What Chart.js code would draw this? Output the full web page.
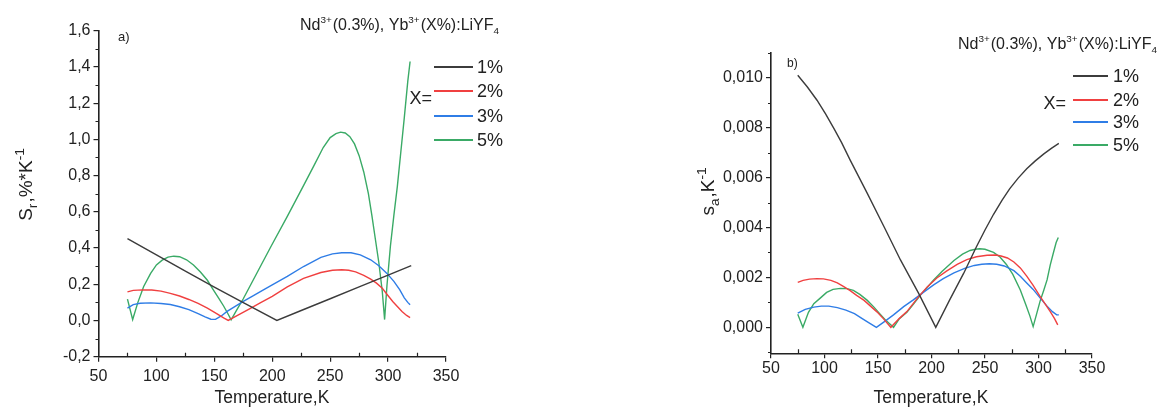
<!DOCTYPE html>
<html>
<head>
<meta charset="utf-8">
<script src="https://cdn.jsdelivr.net/npm/chart.js@4.4.0/dist/chart.umd.min.js"></script>
<style>
  html, body { margin: 0; padding: 0; background: #fff; }
  #wrap { position: relative; width: 1157px; height: 408px; }
  canvas { position: absolute; left: 0; top: 0; }
</style>
</head>
<body>
<div id="wrap">
  <canvas id="chartA" width="1157" height="408"></canvas>
  <canvas id="chartB" width="1157" height="408"></canvas>
</div>
<script>
const FONT = '"Liberation Sans", Arial, sans-serif';
const AXIS = '#222';

const seriesLabels = ['1%', '2%', '3%', '5%'];
const seriesColors = ['#3c3c3c', '#f04040', '#2f7de6', '#3aaa66'];
const xTicks = [50, 100, 150, 200, 250, 300, 350];

// panel a) relative sensitivity S_r, %*K^-1
const tA1 = [75, 100, 125, 150, 175, 204, 225, 250, 275, 300, 320];
const srA1 = [0.452, 0.362, 0.272, 0.184, 0.098, 0.0, 0.055, 0.12, 0.185, 0.25, 0.303];
const tA2 = [75, 80, 88, 96, 104, 112, 120, 128, 136, 144, 152, 158, 162, 170, 180, 190, 200, 213, 227, 242, 252, 260, 266, 272, 279, 285, 290, 295, 299, 304, 308, 312, 316, 319];
const srA2 = [0.158, 0.166, 0.169, 0.168, 0.162, 0.150, 0.135, 0.116, 0.094, 0.068, 0.038, 0.014, 0.0, 0.028, 0.063, 0.098, 0.133, 0.185, 0.232, 0.265, 0.277, 0.280, 0.277, 0.268, 0.249, 0.228, 0.206, 0.178, 0.145, 0.105, 0.077, 0.050, 0.028, 0.016];
const tA3 = [75, 80, 86, 95, 104, 112, 120, 128, 136, 142, 147, 151, 156, 161, 168, 175, 183, 192, 200, 213, 227, 242, 252, 260, 268, 276, 285, 292, 299, 305, 310, 314, 317, 319];
const srA3 = [0.068, 0.088, 0.095, 0.097, 0.094, 0.088, 0.076, 0.060, 0.038, 0.020, 0.007, 0.006, 0.025, 0.050, 0.078, 0.105, 0.135, 0.168, 0.196, 0.243, 0.298, 0.348, 0.368, 0.374, 0.374, 0.362, 0.335, 0.302, 0.26, 0.216, 0.17, 0.125, 0.1, 0.087];
const tA5 = [75, 79.5, 84, 89, 95, 100, 105, 110, 115, 120, 126, 132, 138, 144, 149, 154, 158, 161.5, 164.5, 170, 175, 187, 199, 213, 227, 236, 244, 250, 255, 259, 263, 267, 271, 275, 279, 283, 286, 289, 292, 295, 297, 299, 302, 305, 308, 311, 314, 317, 319];
const srA5 = [0.118, 0.005, 0.1, 0.188, 0.26, 0.307, 0.333, 0.350, 0.355, 0.352, 0.335, 0.306, 0.268, 0.222, 0.17, 0.12, 0.08, 0.04, 0.004, 0.065, 0.12, 0.265, 0.41, 0.575, 0.745, 0.855, 0.955, 1.01, 1.032, 1.04, 1.035, 1.015, 0.975, 0.91, 0.82, 0.70, 0.58, 0.45, 0.32, 0.16, 0.005, 0.19, 0.41, 0.58, 0.74, 0.93, 1.12, 1.32, 1.43];

// panel b) absolute sensitivity S_a, K^-1
const tB1 = [75, 84, 93, 101, 109, 116, 124, 140, 156, 171, 188, 204, 217, 230, 242, 250, 258, 266, 273, 281, 289, 297, 305, 312, 319];
const saB1 = [0.0101, 0.00963, 0.0091, 0.00855, 0.00795, 0.0074, 0.0067, 0.00537, 0.0040, 0.0027, 0.00136, 0.0, 0.0011, 0.00216, 0.00323, 0.0039, 0.00453, 0.0051, 0.00555, 0.00598, 0.00635, 0.00667, 0.00695, 0.00717, 0.00737];
const tB2 = [75, 80, 86, 93, 99, 106, 112, 118, 124, 130, 137, 143, 149, 155, 162, 170, 177, 188, 196, 205, 214, 224, 233, 242, 252, 260, 265, 271, 277, 283, 289, 295, 301, 306, 311, 315, 318];
const saB2 = [0.0018, 0.00188, 0.00193, 0.00195, 0.00194, 0.00188, 0.00178, 0.00163, 0.00147, 0.00128, 0.00108, 0.00085, 0.00062, 0.00035, 0.0, 0.00036, 0.00063, 0.00123, 0.00162, 0.00198, 0.00225, 0.00252, 0.00271, 0.00283, 0.00289, 0.0029, 0.00286, 0.00278, 0.00262, 0.00238, 0.00205, 0.00168, 0.00127, 0.00095, 0.00063, 0.00035, 0.0001];
const tB3 = [75, 82, 90, 97, 104, 112, 120, 128, 136, 142, 148.5, 156, 164.5, 174, 183, 193, 202, 211, 221, 231, 240, 247, 254, 261, 268, 277, 283, 289, 295, 302, 308, 313, 317, 319];
const saB3 = [0.00057, 0.00072, 0.00081, 0.00085, 0.00085, 0.00079, 0.00069, 0.00055, 0.00033, 0.00017, 0.0, 0.00023, 0.0005, 0.00083, 0.0011, 0.00142, 0.0017, 0.00195, 0.00218, 0.00236, 0.00248, 0.00253, 0.00255, 0.00253, 0.00246, 0.00227, 0.00205, 0.00178, 0.00152, 0.00115, 0.00085, 0.00063, 0.0005, 0.0005];
const tB5 = [75, 79.8, 85, 90, 96, 102, 108, 115, 121, 127, 133, 140, 146, 152, 158, 164.5, 170, 177, 183, 189.5, 196, 202, 210, 221, 229, 236, 241, 245, 250, 258, 264, 270, 276, 283, 288, 292, 295, 298, 301.5, 305, 308, 311, 314, 316.5, 318.5];
const saB5 = [0.00052, 0.0, 0.0006, 0.00095, 0.00117, 0.0014, 0.00152, 0.00156, 0.00155, 0.00148, 0.00132, 0.00108, 0.00082, 0.00053, 0.00025, 0.0, 0.00035, 0.0006, 0.00092, 0.00128, 0.0016, 0.0019, 0.00225, 0.00268, 0.00293, 0.00308, 0.00313, 0.00315, 0.00313, 0.003, 0.00282, 0.00252, 0.00212, 0.0015, 0.00093, 0.00045, 0.00003, 0.0005, 0.00105, 0.0015, 0.0019, 0.0025, 0.003, 0.0034, 0.0036];

const titleParts = [['Nd'], ['3+', 'sup'], ['(0.3%), Yb'], ['3+', 'sup'], ['(X%):LiYF'], ['4', 'sub']];

function drawRich(ctx, parts, x, y, size, align, small) {
  const k = small || 0.62;
  const sizeOf = p => (p[1] ? size * k : size);
  let w = 0;
  parts.forEach(p => { ctx.font = sizeOf(p) + 'px ' + FONT; w += ctx.measureText(p[0]).width; });
  let cx = align === 'center' ? x - w / 2 : align === 'right' ? x - w : x;
  ctx.textAlign = 'left';
  ctx.textBaseline = 'middle';
  parts.forEach(p => {
    const dy = p[1] === 'sup' ? -size * 0.38 : p[1] === 'sub' ? size * 0.32 : 0;
    ctx.font = sizeOf(p) + 'px ' + FONT;
    ctx.fillText(p[0], cx, y + dy);
    cx += ctx.measureText(p[0]).width + (p[1] ? 1 : 0);
  });
}

function decoPlugin(d) {
  return {
    id: 'deco',
    afterDraw(chart) {
      const ctx = chart.ctx;
      const xs = chart.scales.x, ys = chart.scales.y;
      const area = chart.chartArea;
      ctx.save();
      // minor ticks
      ctx.strokeStyle = AXIS;
      ctx.lineWidth = 1.2;
      ctx.beginPath();
      for (let k = Math.ceil(xs.min / d.minorX); k * d.minorX <= xs.max + 1e-9; k++) {
        const v = k * d.minorX;
        if (Math.abs(v / d.majorX - Math.round(v / d.majorX)) < 1e-6) continue;
        const px = Math.round(xs.getPixelForValue(v)) + 0.5;
        ctx.moveTo(px, area.bottom);
        ctx.lineTo(px, area.bottom - 4);
      }
      for (let k = Math.ceil(ys.min / d.minorY - 1e-6); k * d.minorY <= ys.max + 1e-9; k++) {
        const v = k * d.minorY;
        if (Math.abs(v / d.majorY - Math.round(v / d.majorY)) < 1e-6) continue;
        const py = Math.round(ys.getPixelForValue(v)) + 0.5;
        ctx.moveTo(area.left, py);
        ctx.lineTo(area.left - 3, py);
      }
      ctx.stroke();

      ctx.fillStyle = AXIS;
      drawRich(ctx, titleParts, d.title[0], d.title[1], 16, 'left');
      ctx.font = d.tag[3] + 'px ' + FONT;
      ctx.textAlign = 'left';
      ctx.fillText(d.tag[0], d.tag[1], d.tag[2]);

      // legend
      const lg = d.legend;
      chart.data.datasets.forEach((ds, i) => {
        const y = lg.ys[i];
        ctx.strokeStyle = ds.borderColor;
        ctx.lineWidth = 2;
        ctx.beginPath();
        ctx.moveTo(lg.x0, y);
        ctx.lineTo(lg.x1, y);
        ctx.stroke();
        ctx.fillStyle = AXIS;
        ctx.font = '18px ' + FONT;
        ctx.textAlign = 'left';
        ctx.textBaseline = 'middle';
        ctx.fillText(ds.label, lg.labelX, y + 1);
      });
      ctx.font = '18px ' + FONT;
      ctx.textAlign = 'right';
      ctx.fillText('X=', lg.xeq[0], lg.xeq[1]);

      // axis titles
      drawRich(ctx, [['Temperature,K']], d.xTitle[0], d.xTitle[1], 17.5, 'center');
      ctx.translate(d.yTitle[0], d.yTitle[1]);
      ctx.rotate(-Math.PI / 2);
      drawRich(ctx, d.yTitleParts, 0, 0, 19, 'center', 0.72);
      ctx.restore();
    }
  };
}

function makeSets(ts, vs) {
  return ts.map((t, i) => ({
    label: seriesLabels[i],
    data: t.map((x, j) => ({ x: x, y: vs[i][j] })),
    borderColor: seriesColors[i],
    borderWidth: 1.4,
    pointRadius: 0,
    tension: 0,
    fill: false
  }));
}

function axisOpts(extra) {
  return Object.assign({
    type: 'linear',
    grid: { drawOnChartArea: false, drawTicks: true, tickLength: 5, color: AXIS, lineWidth: 1.2 },
    border: { display: true, color: AXIS, width: 1.6 }
  }, extra);
}

function makeChart(id, sets, yOpt, pad, yWidth, xHeight, xPad, deco) {
  return new Chart(document.getElementById(id), {
    type: 'line',
    data: { datasets: sets },
    options: {
      responsive: false,
      animation: false,
      devicePixelRatio: 1,
      layout: { padding: pad },
      plugins: { legend: { display: false }, tooltip: { enabled: false } },
      scales: {
        x: axisOpts({
          min: xTicks[0],
          max: xTicks[xTicks.length - 1],
          ticks: { stepSize: 50, autoSkip: false, maxRotation: 0, padding: xPad, color: AXIS, font: { size: 16, family: FONT } },
          afterFit: s => { s.height = xHeight; }
        }),
        y: axisOpts(Object.assign(yOpt, {
          afterFit: s => { s.width = yWidth; }
        }))
      }
    },
    plugins: [decoPlugin(deco)]
  });
}

makeChart('chartA',
  makeSets([tA1, tA2, tA3, tA5], [srA1, srA2, srA3, srA5]),
  {
    min: -0.2, max: 1.6,
    ticks: {
      stepSize: 0.2, autoSkip: false, padding: 3, color: AXIS, font: { size: 16, family: FONT },
      callback: v => (Math.abs(v) < 1e-9 ? 0 : v).toFixed(1).replace('.', ',')
    }
  },
  { left: 0, top: 30.7, right: 711, bottom: 0 }, 98.5, 51.3, 5,
  {
    minorX: 25, majorX: 50, minorY: 0.1, majorY: 0.2,
    title: [300, 26], tag: ['a)', 118, 37, 13],
    legend: { x0: 434, x1: 473, labelX: 477, ys: [67, 91, 116, 140], xeq: [432, 99] },
    xTitle: [272, 398], yTitle: [27, 185],
    yTitleParts: [['S'], ['r', 'sub'], [',%*K'], ['-1', 'sup']]
  });

makeChart('chartB',
  makeSets([tB1, tB2, tB3, tB5], [saB1, saB2, saB3, saB5]),
  {
    min: -0.00104, max: 0.01102,
    ticks: {
      stepSize: 0.002, includeBounds: false, autoSkip: false, padding: 3, color: AXIS, font: { size: 16, family: FONT },
      callback: v => (Math.abs(v) < 1e-9 ? 0 : v).toFixed(3).replace('.', ',')
    }
  },
  { left: 672.5, top: 52.3, right: 65, bottom: 0 }, 98.5, 54.7, 1,
  {
    minorX: 25, majorX: 50, minorY: 0.001, majorY: 0.002,
    title: [958, 45], tag: ['b)', 787, 64, 12],
    legend: { x0: 1073, x1: 1108, labelX: 1113, ys: [76, 100, 122, 145], xeq: [1066, 104] },
    xTitle: [931, 398], yTitle: [709, 192],
    yTitleParts: [['s'], ['a', 'sub'], [',K'], ['-1', 'sup']]
  });
</script>
</body>
</html>
